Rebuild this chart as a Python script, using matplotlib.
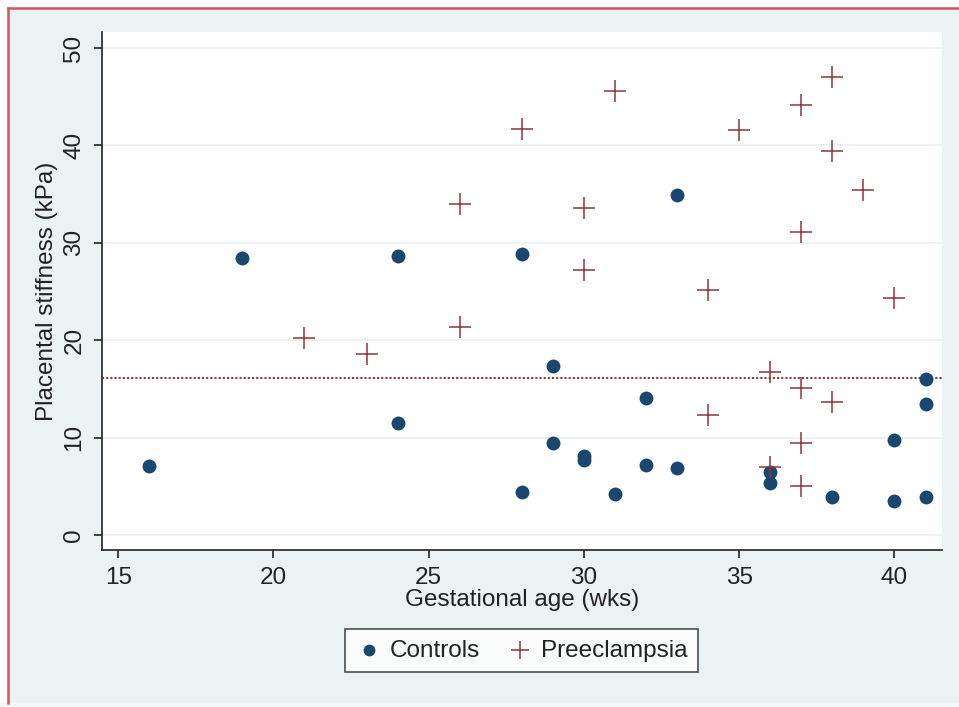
import matplotlib
matplotlib.use("Agg")
import matplotlib.pyplot as plt
from matplotlib.patches import Rectangle
from matplotlib.lines import Line2D

# Données
controls_age = [16, 19, 24, 24, 28, 28, 29, 29, 30, 30, 31, 32, 32, 33, 33,
                36, 36, 38, 40, 40, 41, 41, 41]
controls_kpa = [7.1, 28.4, 28.6, 11.5, 28.8, 4.4, 17.3, 9.4, 8.1, 7.7, 4.2, 14.1, 7.2,
                34.9, 6.9, 6.5, 5.3, 3.9, 9.8, 3.5, 16.0, 13.4, 3.9]

pe_age = [21, 23, 26, 26, 28, 30, 30, 31, 34, 34, 35, 36, 36, 37, 37, 37, 37, 37,
          38, 38, 38, 39, 40]
pe_kpa = [20.2, 18.6, 34.0, 21.4, 41.7, 33.6, 27.2, 45.6, 25.2, 12.3, 41.6, 16.7, 7.0,
          44.1, 31.1, 15.1, 9.4, 5.0, 47.0, 39.4, 13.7, 35.4, 24.3]

seuil = 16.1
xticks = [15, 20, 25, 30, 35, 40]
yticks = [0, 10, 20, 30, 40, 50]

navy = "#1a476f"
maroon = "#90353b"
fond = "#eaf2f3"

plt.rcParams['font.family'] = ['Liberation Sans', 'DejaVu Sans']

W, H = 959, 707
fig = plt.figure(figsize=(W / 100, H / 100), dpi=100, facecolor=fond)

# bords blancs + cadre rouge
fig.patches.append(Rectangle((0, 1 - 7 / H), 1, 7 / H, transform=fig.transFigure,
                             facecolor="white", edgecolor="none", zorder=0))
fig.patches.append(Rectangle((0, 0), 7 / W, 1, transform=fig.transFigure,
                             facecolor="white", edgecolor="none", zorder=0))
fig.patches.append(Rectangle((0, 0), 1, 4 / H, transform=fig.transFigure,
                             facecolor="#f4f7f8", edgecolor="none", zorder=0))
fig.lines.append(Line2D([8 / W, 1], [1 - 8 / H, 1 - 8 / H], transform=fig.transFigure,
                        color="#d9535e", linewidth=1.8))
fig.lines.append(Line2D([8 / W, 8 / W], [4 / H, 1 - 8 / H], transform=fig.transFigure,
                        color="#d9535e", linewidth=1.8))

# zone du graphique
x0, x1, ytop, ybot = 102, 942, 32, 550
ax = fig.add_axes([x0 / W, 1 - ybot / H, (x1 - x0) / W, (ybot - ytop) / H])
ax.set_facecolor("white")

ax.scatter(controls_age, controls_kpa, s=100, color=navy, marker="o",
           linewidths=0, zorder=3, label="Controls")
ax.scatter(pe_age, pe_kpa, s=230, color=maroon, marker="+",
           linewidths=1.1, zorder=3, label="Preeclampsia")
ax.axhline(seuil, color=maroon, linestyle=(0, (1, 1)), linewidth=1.5, zorder=2)

ax.set_xlim(14.48, 41.53)
ax.set_ylim(-1.54, 51.64)
ax.set_xticks(xticks)
ax.set_yticks(yticks)
ax.set_yticklabels([str(v) for v in yticks], rotation=90, va="center")
ax.grid(axis="y", color=fond, linewidth=1.3, zorder=1)
ax.grid(axis="x", visible=False)

for side in ["top", "right"]:
    ax.spines[side].set_visible(False)
for side in ["left", "bottom"]:
    ax.spines[side].set_color("#222222")
    ax.spines[side].set_linewidth(1.2)
ax.tick_params(direction="out", length=6, width=1.2, color="#222222",
               labelsize=17.5, labelcolor="#222222", pad=6)

ax.set_xlabel("Gestational age (wks)", fontsize=17.5, color="#222222", labelpad=0)
ax.set_ylabel("Placental stiffness (kPa)", fontsize=17.5, color="#222222", labelpad=4)

leg = fig.legend(loc="center", bbox_to_anchor=(521.5 / W, 1 - 650.5 / H),
                 ncol=2, frameon=True, fancybox=False, fontsize=17.5,
                 markerscale=0.85, handletextpad=0.3, columnspacing=1.1,
                 borderpad=0.45, handlelength=1.1)
leg.get_frame().set_edgecolor("#222222")
leg.get_frame().set_linewidth(1.2)
leg.get_frame().set_facecolor("white")
for t in leg.get_texts():
    t.set_color("#222222")

fig.savefig("out.png", dpi=100, facecolor=fond)
